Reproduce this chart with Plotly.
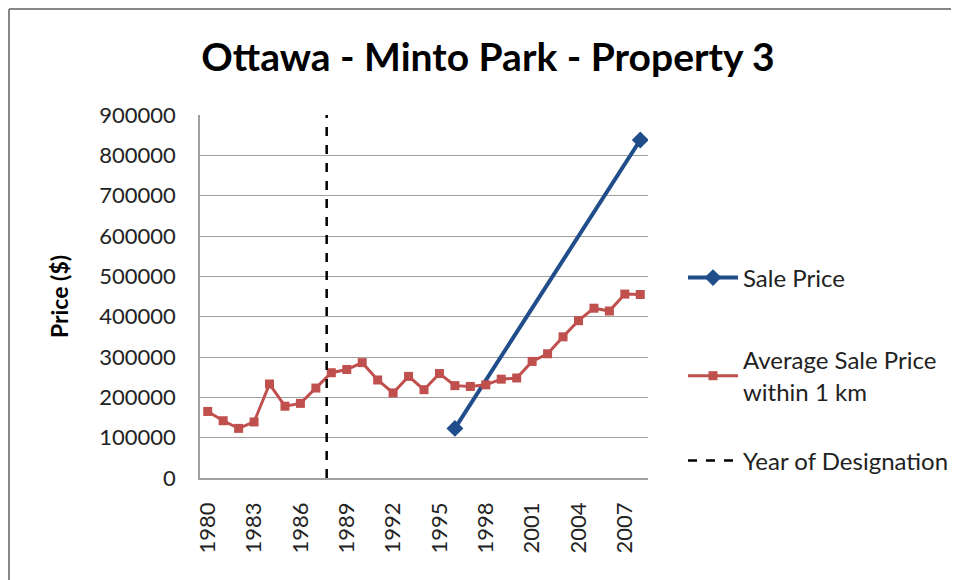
import plotly.graph_objects as go

years = list(range(1980, 2009))
avg_price = [165000, 142000, 123000, 139000, 233000, 178000, 185000, 223000,
             261000, 269000, 286000, 243000, 211000, 252000, 219000, 259000,
             229000, 227000, 231000, 245000, 248000, 289000, 308000, 350000,
             390000, 421000, 414000, 456000, 455000]
sale_years = [1996, 2008]
sale_price = [123000, 838000]
designation_year = 1987.7
y_ticks = list(range(0, 900001, 100000))
x_ticks = list(range(1980, 2008, 3))

FONT = "Lato"
W, H = 959, 580
OFF = 8  # page body offset
L, R, T, B = 192, 319, 107, 110
pw, ph = W - L - R, H - T - B

fig = go.Figure()
fig.add_trace(go.Scatter(
    x=sale_years, y=sale_price, name="Sale Price", mode="lines+markers",
    line=dict(color="#1F4E8A", width=4),
    marker=dict(symbol="diamond", size=13, color="#1F4E8A"),
    legend="legend", showlegend=True))
fig.add_trace(go.Scatter(
    x=years, y=avg_price, name="Average Sale Price<br>within 1 km", mode="lines+markers",
    line=dict(color="#C0504D", width=3),
    marker=dict(symbol="square", size=9, color="#C0504D"),
    legend="legend2", showlegend=True))
fig.add_trace(go.Scatter(
    x=[designation_year, designation_year], y=[0, 900000], name="Year of Designation",
    mode="lines", line=dict(color="black", width=2.5, dash="dash"),
    legend="legend3", showlegend=True))

leg_common = dict(xref="container", yref="container", x=(683 - OFF) / W, xanchor="left",
                  yanchor="middle", bgcolor="rgba(0,0,0,0)", itemwidth=50,
                  font=dict(family=FONT, size=24, color="#222"), visible=True)

top_y = (H - B - 1) / ph
left_x = (1 - L) / pw

fig.update_layout(
    width=W, height=H,
    showlegend=True,
    margin=dict(l=L, r=R, t=T, b=B),
    paper_bgcolor="white", plot_bgcolor="white",
    title=dict(text="<b>Ottawa - Minto Park - Property 3</b>",
               font=dict(family=FONT, size=39, color="black"),
               xref="container", x=(488 - OFF) / W, xanchor="center",
               yref="container", y=1 - (57 - OFF) / H, yanchor="middle"),
    xaxis=dict(range=[1979.5, 2008.5], tickvals=x_ticks, tickangle=-90,
               showgrid=False, showline=True, linecolor="#A0A0A0", linewidth=1.5,
               ticks="outside", ticklen=14, tickcolor="rgba(0,0,0,0)",
               tickfont=dict(family=FONT, size=22, color="#222"), zeroline=False),
    yaxis=dict(range=[0, 900000], tickvals=y_ticks, ticktext=[str(v) for v in y_ticks],
               showgrid=True, gridcolor="#A0A0A0", gridwidth=1,
               showline=True, linecolor="#A0A0A0", linewidth=1.5,
               ticks="outside", ticklen=18, tickcolor="rgba(0,0,0,0)",
               tickfont=dict(family=FONT, size=22, color="#222"), zeroline=False,
               title=dict(text="<b>Price ($)</b>", standoff=24,
                          font=dict(family=FONT, size=23, color="black"))),
    legend=dict(y=1 - (278 - OFF) / H, **leg_common),
    legend2=dict(y=1 - (376 - OFF) / H, **leg_common),
    legend3=dict(y=1 - (461 - OFF) / H, **leg_common),
    shapes=[
        dict(type="line", xref="paper", yref="paper",
             x0=left_x, x1=(W - L) / pw, y0=top_y, y1=top_y,
             line=dict(color="#868686", width=2), layer="below"),
        dict(type="line", xref="paper", yref="paper",
             x0=left_x, x1=left_x, y0=top_y, y1=(H - B - H) / ph,
             line=dict(color="#868686", width=2), layer="below"),
    ],
)

fig.write_html("out.html")
